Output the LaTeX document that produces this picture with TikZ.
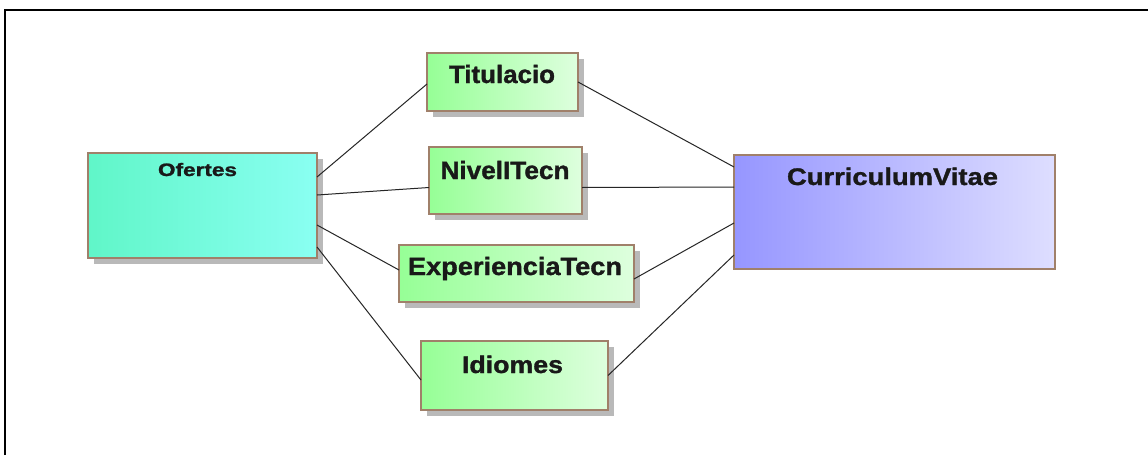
\documentclass[tikz,border=0pt]{standalone}
\usepackage{fontspec}
\setmainfont{Liberation Sans}
\newfontfamily\heavy{Liberation Sans}[BoldFeatures={FakeBold=1.2}]
\usepackage{graphicx}
\usetikzlibrary{calc}
\definecolor{bord}{RGB}{160,128,106}
\definecolor{mintL}{RGB}{96,246,200}
\definecolor{mintR}{RGB}{138,255,242}
\definecolor{grnL}{RGB}{150,255,150}
\definecolor{grnR}{RGB}{222,255,222}
\definecolor{bluL}{RGB}{150,150,255}
\definecolor{bluR}{RGB}{222,222,255}
\definecolor{shad}{RGB}{185,185,185}
\newcommand{\fitw}[2]{\resizebox{#1pt}{\height}{#2}}
\tikzset{
  ent/.style={draw=bord, line width=1.3pt, anchor=north west, inner sep=0pt, outer sep=0pt, shading=axis, shading angle=90},
  grn/.style={ent, left color=grnL, right color=grnR},
  shd/.style={fill=shad, draw=none},
  lbl/.style={anchor=base, inner sep=0pt, text=black!90},
  conn/.style={line width=1pt, draw=black!85}
}
\begin{document}
\begin{tikzpicture}[x=1pt,y=-1pt]
\useasboundingbox (0,0) rectangle (1148,455);
\fill[white] (0,0) rectangle (1148,455);
\draw[line width=2pt] (4.5,455) -- (4.5,9.5) -- (1148,9.5);
% shadows
\fill[shd] (94,159) rectangle (323,264);
\fill[shd] (433,59) rectangle (584,117);
\fill[shd] (435,153) rectangle (588,220);
\fill[shd] (405,251) rectangle (640,308);
\fill[shd] (427,347) rectangle (614,416);
% boxes
\node[ent, left color=mintL, right color=mintR, minimum width=229pt, minimum height=105pt] (ofe) at (88,153) {};
\node[grn, minimum width=151pt, minimum height=58pt] (tit) at (427,53) {};
\node[grn, minimum width=153pt, minimum height=67pt] (niv) at (429,147) {};
\node[grn, minimum width=235pt, minimum height=57pt] (exp) at (399,245) {};
\node[grn, minimum width=187pt, minimum height=69pt] (idi) at (421,341) {};
\node[ent, left color=bluL, right color=bluR, minimum width=321pt, minimum height=114pt] (cv) at (734,155) {};
% labels
\node[lbl, font=\heavy\bfseries\fontsize{18}{20}\selectfont] (tofe) at (197.5,176) {\fitw{79}{Ofertes}};
\node[lbl, font=\heavy\bfseries\fontsize{25}{27}\selectfont] (ttit) at (502,83) {\fitw{106}{Titulacio}};
\node[lbl, font=\heavy\bfseries\fontsize{25}{27}\selectfont] (tniv) at (505,179) {\fitw{129}{NivelITecn}};
\node[lbl, font=\heavy\bfseries\fontsize{25}{27}\selectfont] (texp) at (515,275) {\fitw{214}{ExperienciaTecn}};
\node[lbl, font=\heavy\bfseries\fontsize{24}{26}\selectfont] (tidi) at (512.5,373) {\fitw{101}{Idiomes}};
\node[lbl, font=\heavy\bfseries\fontsize{24}{26}\selectfont] (tcv) at (892.5,185) {\fitw{211}{CurriculumVitae}};
% connectors
\draw[conn] ([yshift=28.5pt]ofe.east) -- ([yshift=-2pt]tit.west);
\draw[conn] ([yshift=10.5pt]ofe.east) -- ([yshift=-7pt]niv.west);
\draw[conn] ([yshift=-19.5pt]ofe.east) -- ([yshift=3.5pt]exp.west);
\draw[conn] ([yshift=-41.5pt]ofe.east) -- ([yshift=-4.5pt]idi.west);
\draw[conn] ([yshift=0pt]tit.east) -- ([yshift=45pt]cv.west);
\draw[conn] ([yshift=-7pt]niv.east) -- ([yshift=25pt]cv.west);
\draw[conn] ([yshift=-5.5pt]exp.east) -- ([yshift=-11pt]cv.west);
\draw[conn] ([yshift=0pt]idi.east) -- ([yshift=-43pt]cv.west);
\end{tikzpicture}
\end{document}
